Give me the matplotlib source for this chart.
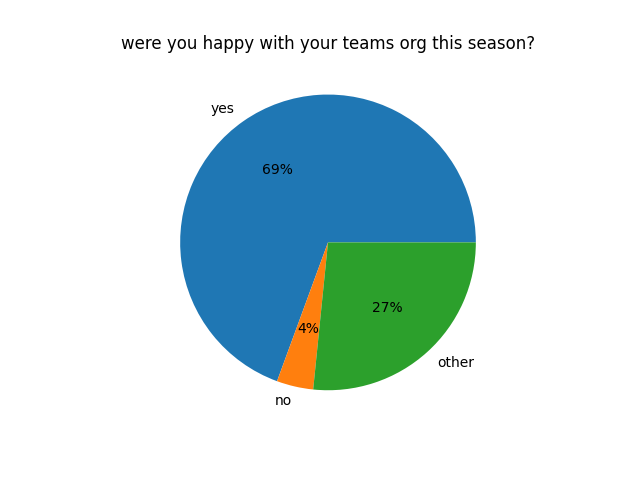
import matplotlib
matplotlib.use('Agg')
import matplotlib.pyplot as plt

# survey answers (share of responses)
labels = ['yes', 'no', 'other']
values = [69.4, 4.0, 26.6]

fig, ax = plt.subplots(figsize=(6.4, 4.8), dpi=100)
ax.pie(values, labels=labels, autopct='%1.0f%%')
ax.set_title('were you happy with your teams org this season?')

plt.savefig('out.png')
